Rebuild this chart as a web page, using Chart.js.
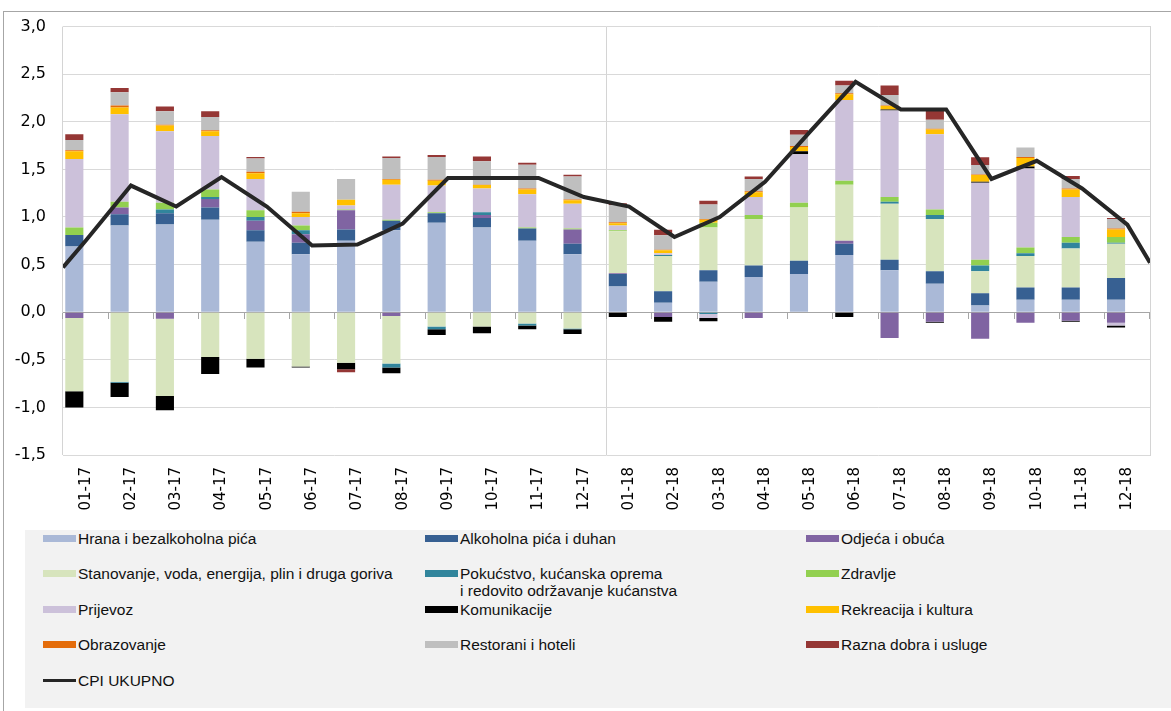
<!DOCTYPE html>
<html>
<head>
<meta charset="utf-8">
<script src="https://cdn.jsdelivr.net/npm/chart.js@4.4.1/dist/chart.umd.min.js"></script>
<style>
  html, body { margin: 0; padding: 0; background: #fff; }
  body { width: 1171px; height: 711px; position: relative; overflow: hidden; font-family: "Liberation Sans", Arial, sans-serif; }
  #frame { position: absolute; left: 3px; top: 11px; width: 1190px; height: 730px; border: 1px solid #a6a6a6; box-sizing: border-box; }
  #wrap { position: absolute; left: 0; top: 0; width: 1171px; height: 525px; }
  #legend { position: absolute; left: 25px; top: 530px; width: 1146px; height: 178px; background: #f2f2f2; }
  .item { position: absolute; display: flex; align-items: flex-start; font-size: 15.5px; line-height: 17px; color: #111; white-space: pre-line; }
  .sw { width: 33px; height: 7px; margin-top: 5px; margin-right: 2px; flex: none; }
  .sw.line { height: 3px; margin-top: 7px; }
</style>
</head>
<body>
<div id="frame"></div>
<div id="wrap"><canvas id="chart"></canvas></div>
<div id="legend"></div>
<script>
// months
const months = ["01-17", "02-17", "03-17", "04-17", "05-17", "06-17", "07-17", "08-17", "09-17", "10-17", "11-17", "12-17",
  "01-18", "02-18", "03-18", "04-18", "05-18", "06-18", "07-18", "08-18", "09-18", "10-18", "11-18", "12-18"];

// contributions by group (percentage points)
const hrana = [0.69, 0.91, 0.92, 0.97, 0.74, 0.61, 0.75, 0.86, 0.94, 0.89, 0.75, 0.61, 0.27, 0.10, 0.32, 0.37, 0.40, 0.60, 0.44, 0.30, 0.07, 0.13, 0.13, 0.13];
const alkohol = [0.12, 0.12, 0.12, 0.13, 0.12, 0.12, 0.12, 0.10, 0.10, 0.10, 0.13, 0.11, 0.13, 0.12, 0.12, 0.12, 0.14, 0.12, 0.11, 0.13, 0.13, 0.13, 0.13, 0.23];
const odjeca = [-0.06, 0.07, -0.07, 0.09, 0.10, 0.09, 0.20, -0.04, 0, 0.03, 0, 0.15, 0.01, -0.05, 0, -0.06, 0, 0.03, -0.27, -0.10, -0.28, -0.11, -0.09, -0.11];
const stanovanje = [-0.77, -0.73, -0.81, -0.47, -0.49, -0.57, -0.53, -0.50, -0.15, -0.15, -0.12, -0.17, 0.44, 0.37, 0.45, 0.49, 0.56, 0.59, 0.59, 0.55, 0.23, 0.33, 0.41, 0.36];
const pokucstvo = [0, -0.01, 0.04, 0.02, 0.04, 0.04, 0, -0.04, -0.03, 0.03, -0.02, -0.01, 0, 0.01, -0.02, 0, 0, 0, 0.02, 0.04, 0.06, 0.03, 0.06, 0.01];
const zdravlje = [0.08, 0.06, 0.07, 0.08, 0.07, 0.05, 0.01, 0.01, 0.01, 0, 0.01, 0.01, 0.01, 0, 0.05, 0.04, 0.05, 0.04, 0.05, 0.06, 0.06, 0.06, 0.06, 0.06];
const prijevoz = [0.72, 0.92, 0.75, 0.56, 0.33, 0.09, 0.04, 0.37, 0.28, 0.25, 0.35, 0.26, 0.05, 0.02, -0.04, 0.19, 0.51, 0.85, 0.91, 0.79, 0.81, 0.83, 0.42, -0.03];
const komunikacije = [-0.17, -0.15, -0.15, -0.18, -0.09, -0.01, -0.07, -0.06, -0.06, -0.07, -0.04, -0.05, -0.05, -0.05, -0.035, 0, 0.03, -0.05, 0.01, -0.01, 0.01, 0.02, -0.01, -0.02];
const rekreacija = [0.08, 0.07, 0.06, 0.05, 0.06, 0.04, 0.06, 0.05, 0.05, 0.035, 0.05, 0.035, 0.025, 0.03, 0.03, 0.05, 0.045, 0.06, 0.035, 0.05, 0.07, 0.09, 0.08, 0.08];
const obrazovanje = [0.01, 0.02, 0.01, 0.01, 0.015, 0.015, 0, 0.01, 0.01, 0.005, 0.01, 0.01, 0.01, 0.007, 0.01, 0.01, 0.01, 0.01, 0.007, 0.007, 0.007, 0.01, 0.01, 0.01];
const restorani = [0.11, 0.14, 0.14, 0.14, 0.14, 0.21, 0.22, 0.22, 0.24, 0.245, 0.25, 0.24, 0.18, 0.15, 0.15, 0.13, 0.12, 0.08, 0.11, 0.095, 0.10, 0.10, 0.10, 0.10];
const razna = [0.06, 0.045, 0.05, 0.06, 0.015, 0, -0.03, 0.015, 0.02, 0.05, 0.02, 0.02, 0.02, 0.06, 0.04, 0.025, 0.05, 0.05, 0.10, 0.10, 0.08, 0, 0.03, 0.01];

// CPI total, plus where the line leaves the plot at both edges (12-16 / 01-19 side)
const cpi = [0.75, 1.33, 1.11, 1.42, 1.11, 0.70, 0.71, 0.93, 1.41, 1.41, 1.41, 1.21, 1.11, 0.79, 1.00, 1.37, 1.90, 2.42, 2.13, 2.13, 1.40, 1.59, 1.30, 0.92];
const cpiEdges = [0.47, 0.52];

const yTicks = { min: -1.5, max: 3.0, step: 0.5 };

const groups = [
  { label: "Hrana i bezalkoholna pića", data: hrana, color: "#aab9d7" },
  { label: "Alkoholna pića i duhan", data: alkohol, color: "#376092" },
  { label: "Odjeća i obuća", data: odjeca, color: "#8064a2" },
  { label: "Stanovanje, voda, energija, plin i druga goriva", data: stanovanje, color: "#d7e4bd" },
  { label: "Pokućstvo, kućanska oprema\ni redovito održavanje kućanstva", data: pokucstvo, color: "#31859c" },
  { label: "Zdravlje", data: zdravlje, color: "#92d050" },
  { label: "Prijevoz", data: prijevoz, color: "#ccc1da" },
  { label: "Komunikacije", data: komunikacije, color: "#000000" },
  { label: "Rekreacija i kultura", data: rekreacija, color: "#ffc000" },
  { label: "Obrazovanje", data: obrazovanje, color: "#e46c0a" },
  { label: "Restorani i hoteli", data: restorani, color: "#bfbfbf" },
  { label: "Razna dobra i usluge", data: razna, color: "#953735" }
];

const cpiPoints = [{ x: -0.5, y: cpiEdges[0] }]
  .concat(cpi.map((v, i) => ({ x: i, y: v })))
  .concat([{ x: months.length - 0.5, y: cpiEdges[1] }]);

const datasets = groups.map(g => ({
  type: "bar",
  label: g.label,
  data: g.data,
  backgroundColor: g.color,
  borderWidth: 0,
  categoryPercentage: 1.0,
  barPercentage: 0.8,
  order: 1
}));
datasets.push({
  type: "line",
  label: "CPI UKUPNO",
  data: cpiPoints,
  xAxisID: "xl",
  stack: "cpi",
  borderColor: "#262626",
  borderWidth: 4,
  pointRadius: 0,
  tension: 0,
  fill: false,
  order: 0
});

Chart.defaults.font.family = "DejaVu Sans";
Chart.defaults.color = "#000";

new Chart(document.getElementById("chart"), {
  type: "bar",
  data: { labels: months, datasets: datasets },
  options: {
    responsive: true,
    maintainAspectRatio: false,
    animation: false,
    layout: { padding: { left: 0, right: 21, top: 26, bottom: 0 } },
    plugins: {
      legend: { display: false },
      tooltip: { enabled: false }
    },
    scales: {
      x: {
        stacked: true,
        offset: true,
        grid: {
          offset: true,
          drawTicks: false,
          color: ctx => (ctx.index === 0 || ctx.index === 12) ? "#d4d4d4" : "rgba(0,0,0,0)"
        },
        border: { display: false },
        ticks: { autoSkip: false, minRotation: 90, maxRotation: 90, padding: 12, font: { size: 15 }, color: "#000" },
        afterFit: s => { s.height = 70; }
      },
      x0: {
        type: "category",
        labels: months,
        position: { y: 0 },
        offset: true,
        z: 1,
        grid: { offset: true, drawOnChartArea: false, drawTicks: true, tickLength: 6, color: "#a6a6a6" },
        border: { color: "#a6a6a6" },
        ticks: { display: false }
      },
      xl: { type: "linear", display: false, offset: false, min: -0.5, max: months.length - 0.5 },
      y: {
        stacked: true,
        min: yTicks.min,
        max: yTicks.max,
        grid: { color: "#d9d9d9", drawTicks: false },
        border: { display: false },
        ticks: {
          stepSize: yTicks.step,
          padding: 17,
          font: { size: 16 },
          color: "#000",
          callback: v => v.toFixed(1).replace(".", ",")
        },
        afterFit: s => { s.width = 63; }
      },
      y2: {
        position: "right",
        min: yTicks.min,
        max: yTicks.max,
        grid: { drawOnChartArea: false, drawTicks: false },
        border: { color: "#d4d4d4" },
        ticks: { display: false },
        afterFit: s => { s.width = 0; }
      }
    }
  }
});

// legend in three columns, like the original
const legend = document.getElementById("legend");
const colX = [18, 400, 781];
const rowY = [-0.5, 35, 70.5, 106, 141.5];
datasets.forEach((d, i) => {
  const item = document.createElement("div");
  item.className = "item";
  item.style.left = colX[i % 3] + "px";
  item.style.top = rowY[Math.floor(i / 3)] + "px";
  const sw = document.createElement("span");
  sw.className = d.type === "line" ? "sw line" : "sw";
  sw.style.background = d.type === "line" ? d.borderColor : d.backgroundColor;
  const txt = document.createElement("span");
  txt.textContent = d.label;
  item.appendChild(sw);
  item.appendChild(txt);
  legend.appendChild(item);
});
</script>
</body>
</html>
